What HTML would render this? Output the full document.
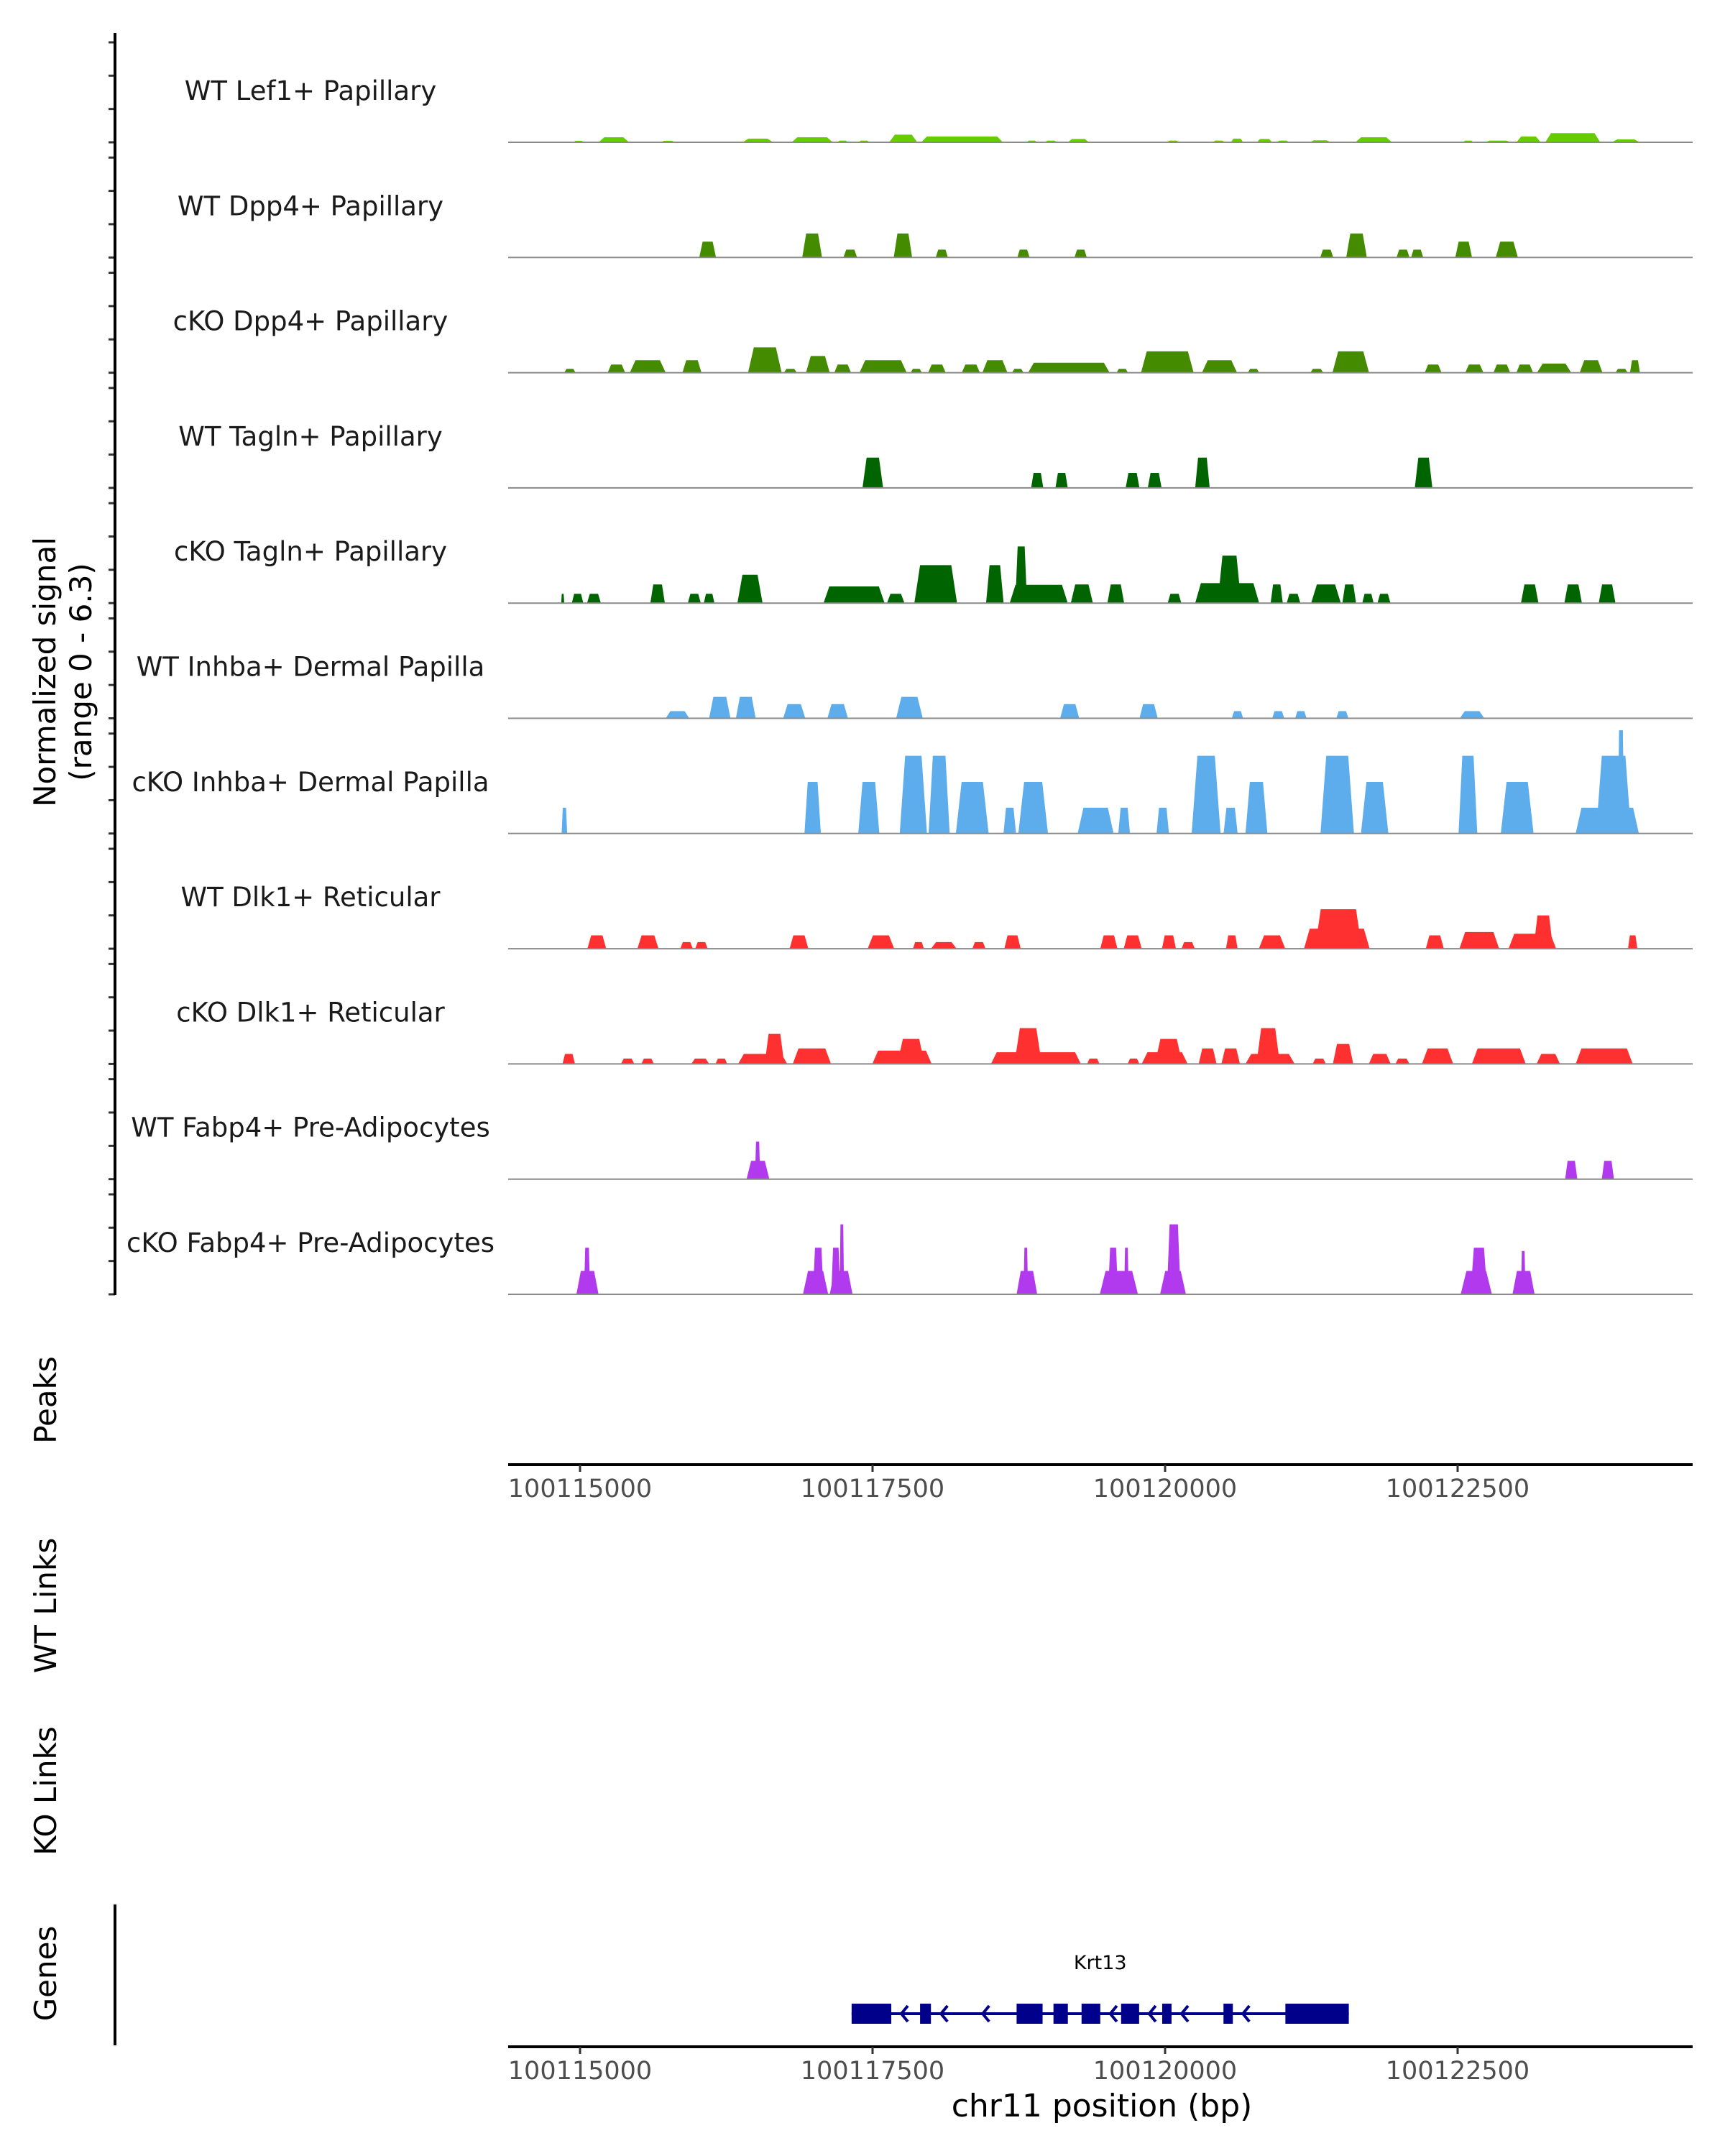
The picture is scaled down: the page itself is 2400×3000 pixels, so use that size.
<!DOCTYPE html>
<html><head><meta charset="utf-8">
<style>
html,body{margin:0;padding:0;background:#fff;}
svg{display:block;font-family:"DejaVu Sans","Liberation Sans",sans-serif;}
</style></head>
<body>
<svg id="chart" width="2400" height="3000" viewBox="0 0 2400 3000" xmlns="http://www.w3.org/2000/svg">
  <rect x="0" y="0" width="2400" height="3000" fill="#fff"/>
  <g id="tracks"></g>
  <g id="axes"></g>
  <g id="gene"></g>
  <text transform="translate(89,935) rotate(-90)" text-anchor="middle" font-size="42" fill="#000">
    <tspan x="0" dy="-12">Normalized signal</tspan><tspan x="0" dy="50">(range 0 - 6.3)</tspan></text>
  <text transform="translate(78,1948) rotate(-90)" text-anchor="middle" font-size="42">Peaks</text>
  <text transform="translate(78,2234) rotate(-90)" text-anchor="middle" font-size="42">WT Links</text>
  <text transform="translate(78,2492) rotate(-90)" text-anchor="middle" font-size="42">KO Links</text>
  <text transform="translate(78,2746) rotate(-90)" text-anchor="middle" font-size="42">Genes</text>
  <text x="1533" y="2945" text-anchor="middle" font-size="44">chr11 position (bp)</text>
</svg>
<script>
// ---- data (positions: bp minus 100000000; heights: normalized signal) ----
const trackNames = ["WT Lef1+ Papillary","WT Dpp4+ Papillary","cKO Dpp4+ Papillary","WT Tagln+ Papillary","cKO Tagln+ Papillary","WT Inhba+ Dermal Papilla","cKO Inhba+ Dermal Papilla","WT Dlk1+ Reticular","cKO Dlk1+ Reticular","WT Fabp4+ Pre-Adipocytes","cKO Fabp4+ Pre-Adipocytes"];
const trackColors = ["#66cc00","#458b00","#458b00","#006400","#006400","#5dadec","#5dadec","#ff3030","#ff3030","#b23aee","#b23aee"];
const wtLef1 = [[114943,115034,0.09],[115158,115419,0.3],[115693,115810,0.09],[116390,116651,0.22],[116808,117160,0.3],[117199,117290,0.1],[117381,117473,0.1],[117642,117883,0.46],[117916,118614,0.35],[118816,118907,0.1],[118972,119077,0.1],[119168,119350,0.2],[120015,120120,0.1],[120407,120511,0.1],[120563,120667,0.22],[120785,120915,0.2],[120954,121059,0.1],[121235,121417,0.12],[121626,121939,0.3],[122545,122636,0.1],[122728,122962,0.1],[123002,123210,0.35],[123249,123719,0.55],[123817,124058,0.18]];
const wtDpp4 = [[116019,116162,0.95],[116899,117068,1.44],[117251,117368,0.47],[117681,117838,1.44],[118040,118144,0.47],[118737,118842,0.47],[119226,119331,0.47],[121326,121437,0.47],[121548,121724,1.44],[121978,122089,0.47],[122102,122206,0.47],[122480,122623,0.95],[122826,123015,0.95]];
const koDpp4 = [[114865,114962,0.23],[115236,115386,0.49],[115425,115732,0.75],[115875,116038,0.75],[116436,116723,1.52],[116742,116853,0.23],[116931,117134,1.0],[117173,117316,0.49],[117388,117792,0.75],[117825,117922,0.23],[117975,118125,0.49],[118262,118418,0.49],[118438,118653,0.75],[118692,118790,0.23],[118829,119526,0.6],[119585,119683,0.23],[119794,120244,1.28],[120315,120615,0.75],[120707,120804,0.23],[121241,121352,0.23],[121430,121743,1.28],[122219,122363,0.49],[122565,122721,0.49],[122806,122949,0.49],[123002,123145,0.49],[123178,123471,0.55],[123543,123738,0.75],[123849,123953,0.23],[123973,124058,0.75]];
const wtTagln = [[117414,117590,1.82],[118855,118959,0.9],[119063,119168,0.9],[119663,119781,0.9],[119852,119970,0.9],[120257,120381,1.82],[122134,122284,1.82]];
const koTagln = [[114839,114865,0.56],[114930,115028,0.56],[115060,115178,0.56],[115601,115725,1.12],[115921,116032,0.56],[116058,116149,0.56],[116345,116560,1.7],[117081,117603,1.0],[117623,117773,0.56],[117857,118222,2.28],[118470,118620,2.28],[118672,119168,1.1],[118720,118820,3.4],[119194,119383,1.12],[119507,119650,1.12],[120022,120139,0.56],[120257,120804,1.2],[120450,120650,2.85],[120902,121006,1.12],[121039,121156,0.56],[121248,121502,1.12],[121515,121632,1.12],[121685,121782,0.56],[121815,121926,0.56],[123041,123191,1.12],[123412,123562,1.12],[123706,123849,1.12]];
const wtInhba = [[115732,115934,0.43],[116103,116286,1.29],[116332,116501,1.29],[116736,116925,0.85],[117114,117290,0.85],[117701,117929,1.29],[119103,119266,0.85],[119781,119937,0.85],[120570,120667,0.43],[120915,121019,0.43],[121111,121209,0.43],[121463,121567,0.43],[122519,122728,0.43]];
const koInhba = [[114843,114890,1.55],[116918,117058,3.1],[117378,117558,3.1],[117732,117965,4.67],[117979,118159,4.67],[118212,118492,3.1],[118619,118726,1.55],[118746,118999,3.1],[119253,119560,1.55],[119600,119700,1.55],[119927,120033,1.55],[120227,120474,4.67],[120500,120620,1.55],[120687,120874,3.1],[121328,121614,4.67],[121674,121908,3.1],[122508,122668,4.67],[122869,123149,3.1],[123509,124049,1.55],[123683,123983,4.67],[123869,123923,6.2]];
const wtDlk1 = [[115063,115224,0.8],[115490,115671,0.8],[115857,115964,0.4],[115984,116091,0.4],[116791,116951,0.8],[117458,117685,0.8],[117845,117939,0.4],[117999,118219,0.4],[118352,118466,0.4],[118626,118766,0.8],[119446,119593,0.8],[119646,119800,0.8],[119973,120093,0.8],[120140,120254,0.4],[120520,120620,0.8],[120801,121027,0.8],[121187,121748,1.2],[121281,121681,2.37],[122228,122382,0.8],[122515,122855,1.0],[122935,123342,0.9],[123149,123315,2.0],[123956,124036,0.8]];
const koDlk1 = [[114850,114957,0.6],[115350,115464,0.32],[115524,115631,0.32],[115951,116104,0.32],[116158,116258,0.32],[116351,116771,0.6],[116578,116745,1.8],[116818,117145,0.93],[117498,118005,0.8],[117712,117945,1.5],[118512,119280,0.7],[118712,118946,2.15],[119333,119440,0.32],[119680,119780,0.32],[119800,120193,0.7],[119913,120147,1.5],[120287,120440,0.93],[120481,120640,0.93],[120687,121107,0.6],[120781,120981,2.15],[121261,121374,0.32],[121434,121608,1.2],[121741,121928,0.6],[121968,122088,0.32],[122195,122462,0.93],[122622,123082,0.93],[123175,123375,0.6],[123509,123996,0.93]];
const wtFabp4 = [[116423,116618,1.1],[116495,116540,2.25],[123419,123523,1.1],[123732,123836,1.1]];
const koFabp4 = [[114969,115158,1.4],[115034,115086,2.8],[116905,117121,1.4],[116990,117081,2.8],[117134,117329,1.4],[117147,117225,2.8],[117218,117257,4.2],[118731,118907,1.4],[118790,118829,2.8],[119442,119768,1.4],[119513,119598,2.8],[119650,119689,2.8],[119957,120178,1.4],[120015,120133,4.2],[122526,122793,1.4],[122610,122754,2.8],[122969,123158,1.4],[123041,123080,2.6]];
const trackData = [wtLef1,wtDpp4,koDpp4,wtTagln,koTagln,wtInhba,koInhba,wtDlk1,koDlk1,wtFabp4,koFabp4];
const xTicks = [100115000,100117500,100120000,100122500];
const exons = [[117321,117660],[117906,117999],[118731,118953],[119046,119169],[119286,119446],[119624,119778],[119975,120055],[120499,120579],[121028,121570]];
const geneSpan = [117321,121570];
const geneName = "Krt13";
const yMax = 6.3;

// ---- scales ----
const BP0 = 100000000;
const plotL = 707, plotR = 2355;
function xScale(bp){ return 807 + (bp - 100115000) * 0.1628; }
const base0 = 198, trackStep = 160.3, trackH = 146;
function yScale(i, v){ return base0 + i*trackStep - v/yMax*trackH; }
const NS = "http://www.w3.org/2000/svg";
function mk(tag, attrs, parent){ const e=document.createElementNS(NS,tag); for(const k in attrs) e.setAttribute(k,attrs[k]); parent.appendChild(e); return e; }

const tracks = document.getElementById('tracks');
const axes = document.getElementById('axes');
const geneG = document.getElementById('gene');

trackNames.forEach((name,i)=>{
  const g = mk('g',{},tracks);
  
  
  const base = yScale(i,0);
  trackData[i].forEach((p,j)=>{
    const x1 = xScale(BP0+p[0]), x2 = xScale(BP0+p[1]);
    const w = x2-x1, r = Math.min(w*0.2, 8);
    const yt = yScale(i,p[2]);
    const poly = mk('polygon',{points:`${x1},${base} ${x1+r},${yt} ${x2-r},${yt} ${x2},${base}`, fill:trackColors[i]}, g);
    
    
  });
  const bl = mk('line',{x1:plotL,x2:plotR,y1:base,y2:base,stroke:'#8a8a8a','stroke-width':2},g);
  
  
  const t = mk('text',{x:432,y:base-71+12,'text-anchor':'middle','font-size':37,fill:'#1a1a1a'},g);
  t.textContent = name;
  
  
  for(let k=0;k<4;k++){
    const ty = yScale(i, k*2);
    const tk = mk('line',{x1:151,x2:160,y1:ty,y2:ty,stroke:'#333','stroke-width':3},axes);
    
    
  }
});
const ya = mk('line',{x1:160,x2:160,y1:46,y2:1802,stroke:'#000','stroke-width':4},axes);



[[2038,'peaks-x-axis'],[2848,'genes-x-axis']].forEach(([ay,nm])=>{
  const g = mk('g',{},axes);
  
  
  mk('line',{x1:plotL,x2:plotR,y1:ay,y2:ay,stroke:'#000','stroke-width':4},g);
  xTicks.forEach(v=>{
    const x = xScale(v);
    mk('line',{x1:x,x2:x,y1:ay,y2:ay+10,stroke:'#333','stroke-width':3},g);
    const t = mk('text',{x:x,y:ay+45,'text-anchor':'middle','font-size':35,fill:'#4d4d4d'},g);
    t.textContent = String(v);
    
    
  });
});
const ga = mk('line',{x1:160,x2:160,y1:2650,y2:2846,stroke:'#000','stroke-width':4},axes);



const gy = 2802;
const gl = mk('line',{x1:xScale(BP0+geneSpan[0]),x2:xScale(BP0+geneSpan[1]),y1:gy,y2:gy,stroke:'#00008b','stroke-width':4},geneG);


for(let k=0;k<exons.length-1;k++){
  const a = xScale(BP0+exons[k][1]), b = xScale(BP0+exons[k+1][0]);
  for(let x=a+14; x<b-6; x+=58){
    const c = mk('polyline',{points:`${x+9},${gy-11} ${x},${gy} ${x+9},${gy+11}`,fill:'none',stroke:'#00008b','stroke-width':4},geneG);
    
    
  }
}
exons.forEach(e=>{
  const x1 = xScale(BP0+e[0]), x2 = xScale(BP0+e[1]);
  const r = mk('rect',{x:x1,y:gy-14,width:x2-x1,height:28,fill:'#00008b'},geneG);
  
  
});
const gt = mk('text',{x:(xScale(BP0+geneSpan[0])+xScale(BP0+geneSpan[1]))/2,y:2740,'text-anchor':'middle','font-size':27,fill:'#000'},geneG);
gt.textContent = geneName;


</script>
</body></html>
